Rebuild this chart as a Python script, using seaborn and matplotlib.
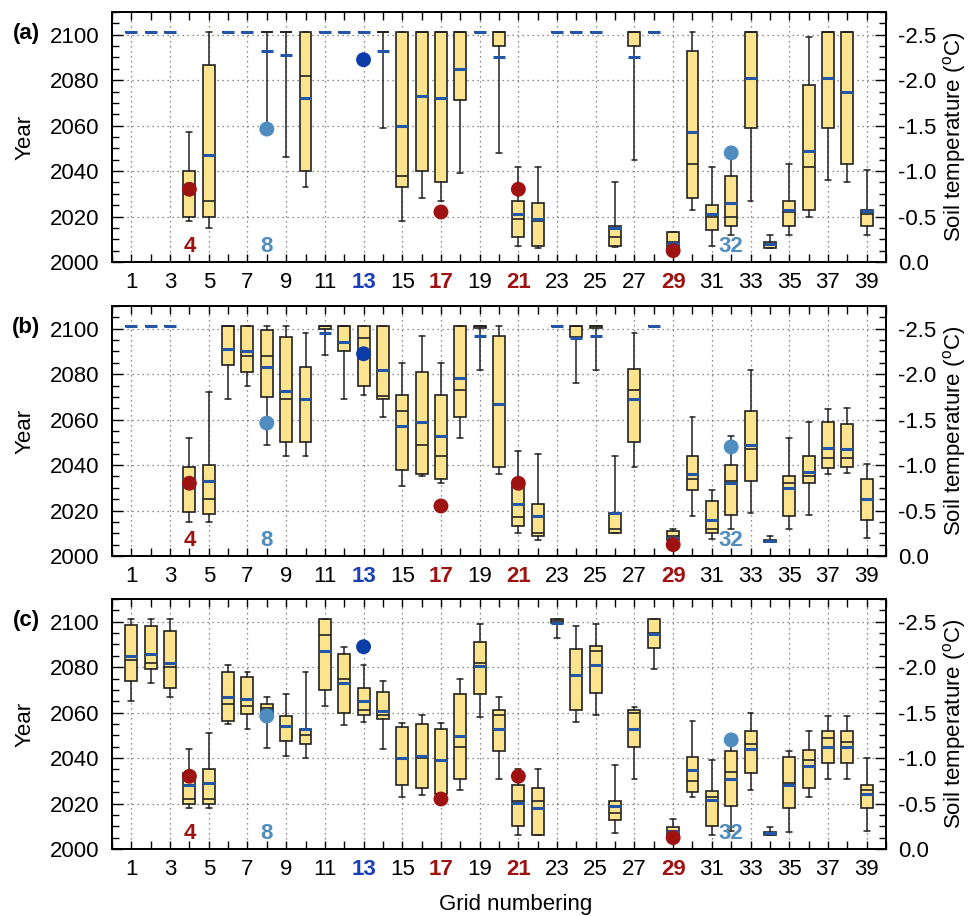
import numpy as np
import pandas as pd
import matplotlib
matplotlib.use("Agg")
import matplotlib.pyplot as plt
import matplotlib.transforms as mtransforms
from matplotlib.ticker import MultipleLocator, FixedLocator, FixedFormatter
import seaborn as sns

# ---------------- data ----------------
grids = list(range(1, 40))

a_lo = [2101, 2101, 2101, 2018, 2015, 2101, 2101, 2059, 2046, 2033,
        2101, 2101, 2101, 2059, 2018, 2028, 2027, 2039, 2101, 2048,
        2007, 2006, 2101, 2101, 2101, 2006.4, 2045, 2101, 2006, 2023,
        2007, 2012, 2027, 2006, 2012, 2020, 2036, 2035, 2012]
a_q1 = [2101, 2101, 2101, 2020, 2020, 2101, 2101, 2101, 2101, 2040,
        2101, 2101, 2101, 2101, 2033, 2040, 2035, 2071.5, 2101, 2095,
        2011, 2007, 2101, 2101, 2101, 2007, 2095, 2101, 2006, 2028,
        2014, 2016, 2059, 2006, 2016, 2023, 2059, 2043, 2016]
a_med = [2101, 2101, 2101, 2030, 2027, 2101, 2101, 2101, 2101, 2082,
         2101, 2101, 2101, 2101, 2038, 2101, 2101, 2101, 2101, 2101,
         2019, 2018, 2101, 2101, 2101, 2011, 2101, 2101, 2009, 2043,
         2020, 2020, 2101, 2008, 2022, 2042, 2101, 2101, 2021]
a_q3 = [2101, 2101, 2101, 2040, 2086.5, 2101, 2101, 2101, 2101, 2101,
        2101, 2101, 2101, 2101, 2101, 2101, 2101, 2101, 2101, 2101,
        2027, 2026, 2101, 2101, 2101, 2016, 2101, 2101, 2013, 2093,
        2025, 2038, 2101, 2009, 2027, 2078, 2101, 2101, 2023]
a_hi = [2101, 2101, 2101, 2057, 2101, 2101, 2101, 2101, 2101, 2101,
        2101, 2101, 2101, 2101, 2101, 2101, 2101, 2101, 2101, 2101,
        2042, 2042, 2101, 2101, 2101, 2035, 2101, 2101, 2013, 2101,
        2042, 2048, 2101, 2012, 2043, 2099, 2101, 2101, 2040.5]
a_mean = [2101, 2101, 2101, 2032, 2047, 2101, 2101, 2093, 2091, 2072,
          2101, 2101, 2101, 2093, 2060, 2073, 2072, 2085, 2101, 2090,
          2021, 2019, 2101, 2101, 2101, 2015, 2090, 2101, 2008.5, 2057,
          2021, 2026, 2081, 2008, 2023, 2049, 2081, 2075, 2022.6]

b_lo = [2101, 2101, 2101, 2015, 2015, 2069, 2075, 2049, 2044, 2044,
        2088.5, 2069, 2071, 2061, 2031, 2035.4, 2032, 2052, 2082, 2036,
        2010, 2007, 2101, 2076, 2082, 2010, 2039, 2101, 2006, 2017.6,
        2007.6, 2012, 2019, 2006, 2012, 2018, 2036, 2036.5, 2008]
b_q1 = [2101, 2101, 2101, 2019.5, 2018.5, 2084, 2081, 2070, 2050, 2050,
        2100, 2090, 2075, 2069, 2038, 2036, 2034, 2061, 2100.5, 2039,
        2013, 2009, 2101, 2096.4, 2100.5, 2010, 2050, 2101, 2007, 2029,
        2010, 2018, 2033, 2006, 2017.5, 2032, 2038.6, 2039, 2016]
b_med = [2101, 2101, 2101, 2031, 2025, 2101, 2088, 2088, 2069, 2069,
         2101, 2101, 2096, 2070.6, 2064, 2049, 2044, 2073, 2101, 2067,
         2017, 2010, 2101, 2101, 2101, 2012, 2073, 2101, 2009, 2034,
         2012, 2033, 2047, 2006.5, 2032, 2035, 2043, 2043, 2025]
b_q3 = [2101, 2101, 2101, 2039, 2040, 2101, 2101, 2099.4, 2096.5, 2083,
        2101, 2101, 2101, 2101, 2071, 2081, 2071, 2101, 2101, 2097,
        2030.6, 2023, 2101, 2101, 2101, 2019, 2082.5, 2101, 2011, 2044,
        2024, 2040, 2064, 2007, 2035, 2044, 2059, 2058, 2034]
b_hi = [2101, 2101, 2101, 2052, 2072, 2101, 2101, 2101, 2101, 2098,
        2101, 2101, 2101, 2101, 2085, 2097, 2085, 2101, 2101, 2101,
        2046, 2045, 2101, 2101, 2101, 2044, 2098, 2101, 2012, 2061,
        2029, 2053, 2082, 2009, 2052, 2059, 2064.5, 2065, 2040.5]
b_mean = [2101, 2101, 2101, 2031.5, 2033, 2091, 2090, 2083, 2072.5, 2069,
          2098, 2094, 2089, 2082, 2057, 2059, 2053, 2078.5, 2097, 2067,
          2023, 2017.5, 2101, 2096, 2097, 2019, 2069, 2101, 2008, 2036,
          2016, 2032, 2049, 2006.5, 2030, 2037, 2047.6, 2047, 2025]

c_lo = [2065, 2073, 2067, 2018, 2018, 2055, 2053, 2044.5, 2041, 2040,
        2063, 2054.6, 2056, 2044, 2023, 2023.6, 2022, 2026, 2058, 2031,
        2006, 2006, 2093, 2056, 2059, 2007, 2031, 2079, 2006, 2023,
        2006, 2008, 2026, 2006, 2007.6, 2023, 2031, 2031, 2008]
c_q1 = [2074, 2079, 2071, 2020, 2020, 2056.5, 2059.6, 2060, 2047.6, 2046,
        2070, 2060, 2059, 2057, 2028, 2027, 2024, 2031, 2068, 2043,
        2010, 2006, 2099.6, 2061, 2068.5, 2012.6, 2044.7, 2088.5, 2006, 2025,
        2010, 2019, 2033.6, 2006, 2018, 2027, 2037.7, 2038, 2018]
c_med = [2083, 2082, 2080, 2022, 2022, 2064, 2063, 2062, 2054, 2050,
         2094, 2075, 2061, 2059, 2039.4, 2040, 2039, 2045, 2082, 2059,
         2021, 2021, 2100.5, 2076.5, 2087, 2016, 2060, 2095, 2008, 2030,
         2023, 2034, 2046, 2007, 2029, 2039, 2049, 2047, 2026]
c_q3 = [2098.4, 2098, 2096, 2033.6, 2035, 2078, 2075.6, 2063.6, 2058.5, 2053,
        2101, 2086, 2071, 2069, 2053.6, 2055, 2053, 2068, 2091, 2061,
        2028, 2027, 2101, 2088, 2089.5, 2021, 2061, 2101, 2009.5, 2040.6,
        2025.7, 2043, 2052, 2007.5, 2040.6, 2043.5, 2052, 2052, 2028]
c_hi = [2101, 2101, 2101, 2044, 2051, 2081, 2078, 2067, 2068, 2078,
        2101, 2089, 2081, 2074, 2055.6, 2059, 2055.6, 2075, 2099, 2067,
        2035, 2035, 2101, 2098, 2099, 2037, 2062.5, 2101, 2013, 2056.5,
        2039, 2048, 2060, 2009.5, 2043, 2052, 2058.5, 2058.5, 2040]
c_mean = [2085, 2086, 2082, 2028, 2029, 2067, 2066, 2061, 2054, 2053,
          2087, 2073, 2065, 2060.6, 2040, 2041, 2039, 2049.6, 2080.6, 2052.6,
          2020.4, 2018, 2099.6, 2076.5, 2081, 2018.7, 2053, 2094.6, 2008, 2034.6,
          2021.5, 2031, 2044, 2007, 2028, 2036.6, 2045, 2045, 2024]

# observed thaw years (dots), identical in every panel
obs_grid = [4, 8, 13, 17, 21, 29, 32]
obs_year = [2032, 2058.5, 2089, 2022, 2032, 2005, 2048]
obs_group = ["red", "steel", "blue", "red", "red", "red", "steel"]

# highlighted tick labels and annotations
tick_highlight = {13: "blue", 17: "red", 21: "red", 29: "red"}
note_grid = [4, 8, 32]
note_text = ["4", "8", "32"]
note_group = ["red", "steel", "steel"]

panel_labels = ["(a)", "(b)", "(c)"]
right_tick_vals = [0.0, -0.5, -1.0, -1.5, -2.0, -2.5]
right_tick_text = ["0.0", "-0.5", "-1.0", "-1.5", "-2.0", "-2.5"]

# ---------------- style ----------------
COLORS = {"red": "#9E1212", "steel": "#4F8CBF", "blue": "#0B3CA8"}
TICKCOL = {"red": "#9E1212", "blue": "#1A3FB8"}
YELLOW = "#FCE38E"
MEANBLUE = "#2456A8"
EDGE = "#222222"

sns.set_style("ticks")
plt.rcParams["font.family"] = ["Liberation Sans", "DejaVu Sans"]
plt.rcParams["axes.unicode_minus"] = False
plt.rcParams["mathtext.default"] = "regular"
for key in ["text.color", "axes.labelcolor", "xtick.color", "ytick.color"]:
    plt.rcParams[key] = "black"
FS = 16

fig = plt.figure(figsize=(9.68, 9.16), dpi=100)
L, W, H = 112 / 968, 774 / 968, 250 / 916
bottoms = [1 - 262 / 916, 1 - 556 / 916, 1 - 849 / 916]

panels = [
    (a_lo, a_q1, a_med, a_q3, a_hi, a_mean),
    (b_lo, b_q1, b_med, b_q3, b_hi, b_mean),
    (c_lo, c_q1, c_med, c_q3, c_hi, c_mean),
]

obs_df = pd.DataFrame({"grid": obs_grid, "year": obs_year, "group": obs_group})

for i, (lo, q1, med, q3, hi, mn) in enumerate(panels):
    ax = fig.add_axes([L, bottoms[i], W, H])
    stats = [dict(whislo=lo[k], q1=q1[k], med=med[k], q3=q3[k], whishi=hi[k],
                  mean=mn[k], fliers=[]) for k in range(len(grids))]
    ax.bxp(stats, positions=grids, widths=0.62, patch_artist=True,
           showmeans=True, meanline=True, manage_ticks=False, capwidths=0.3,
           boxprops=dict(facecolor=YELLOW, edgecolor=EDGE, linewidth=1.2),
           medianprops=dict(color=EDGE, linewidth=1.2),
           meanprops=dict(color=MEANBLUE, linewidth=2.2, linestyle="-"),
           whiskerprops=dict(color=EDGE, linewidth=1.1),
           capprops=dict(color=EDGE, linewidth=1.1))

    sns.scatterplot(data=obs_df, x="grid", y="year", hue="group",
                    palette=COLORS, s=115, edgecolor="none", legend=False,
                    ax=ax, zorder=6)

    for g, t, grp in zip(note_grid, note_text, note_group):
        ax.text(g, 2007, t, color=COLORS[grp], fontsize=FS, fontweight="bold",
                ha="center", va="center", zorder=7)

    ax.set_xlim(0, 40)
    ax.set_ylim(2000, 2110)
    ax.xaxis.set_major_locator(FixedLocator(list(range(1, 40, 2))))
    ax.xaxis.set_minor_locator(MultipleLocator(1))
    ax.set_xticklabels([str(v) for v in range(1, 40, 2)])
    ax.yaxis.set_major_locator(MultipleLocator(20))
    ax.yaxis.set_minor_locator(MultipleLocator(5))
    ax.tick_params(axis="both", which="both", direction="in", labelsize=FS,
                   top=True, right=False, colors="black")
    ax.tick_params(axis="x", which="major", length=6, width=1, pad=7)
    ax.tick_params(axis="x", which="minor", length=6, width=1)
    ax.tick_params(axis="y", which="major", length=8, width=1, pad=9)
    ax.tick_params(axis="y", which="minor", length=5, width=1)
    for lab in ax.get_xticklabels():
        v = int(lab.get_text())
        if v in tick_highlight:
            lab.set_color(TICKCOL[tick_highlight[v]])
            lab.set_fontweight("bold")
    ax.set_axisbelow(True)
    ax.grid(True, which="major", linestyle=(0, (1, 3)), color="#666666",
            linewidth=0.9)
    for sp in ax.spines.values():
        sp.set_color("black")
        sp.set_linewidth(1.3)
    ax.set_xlabel("")
    ax.set_ylabel("Year", fontsize=FS, labelpad=10)

    trans = mtransforms.blended_transform_factory(ax.transAxes, ax.transData)
    ax.text(-0.111, 2100.5, panel_labels[i], transform=trans, fontsize=FS,
            fontweight="bold", ha="center", va="center")

    ax2 = ax.twinx()
    ax2.set_ylim(0, -2.75)
    ax2.yaxis.set_major_locator(FixedLocator(right_tick_vals))
    ax2.yaxis.set_major_formatter(FixedFormatter(right_tick_text))
    ax2.yaxis.set_minor_locator(MultipleLocator(0.125))
    ax2.tick_params(axis="y", which="both", direction="in", labelsize=FS,
                    colors="black")
    ax2.tick_params(axis="y", which="major", length=8, width=1, pad=9)
    ax2.tick_params(axis="y", which="minor", length=5, width=1)
    ax2.set_ylabel("Soil temperature ($^{o}$C)", fontsize=FS, labelpad=3)
    for sp in ax2.spines.values():
        sp.set_color("black")
        sp.set_linewidth(1.3)

fig.text(516 / 968, 0.007, "Grid numbering", fontsize=FS, ha="center",
         va="baseline")

fig.savefig("out.png", dpi=100)
